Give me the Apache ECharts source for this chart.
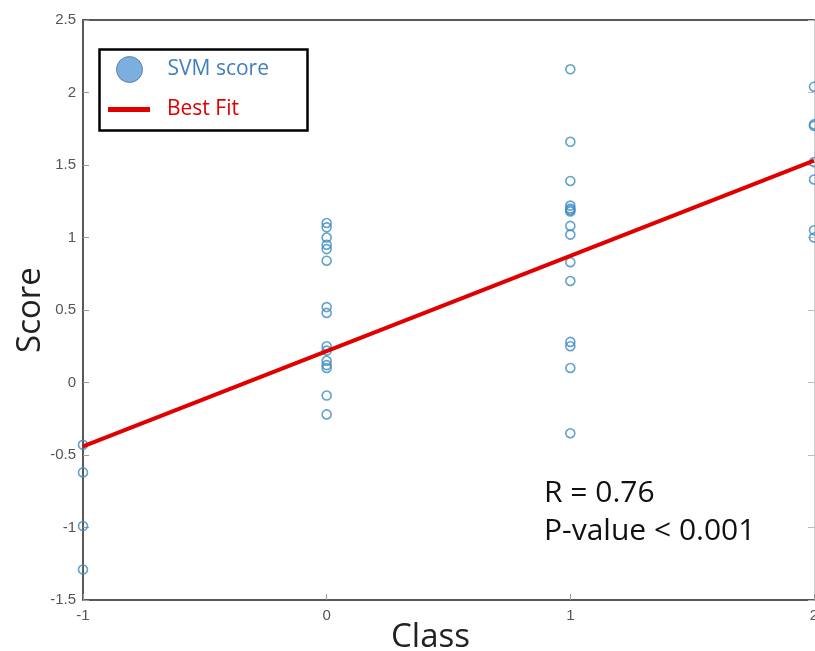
<!DOCTYPE html>
<html>
<head>
<meta charset="utf-8">
<script src="https://cdn.jsdelivr.net/npm/echarts@6/dist/echarts.min.js"></script>
<style>html,body{margin:0;padding:0;background:#fff}#c{width:815px;height:651px}</style>
</head>
<body>
<div id="c"></div>
<script>
var classes = [-1, 0, 1, 2];
var scoresClassM1 = [-0.43, -0.62, -0.99, -1.29];
var scoresClass0 = [1.10, 1.07, 1.0, 0.95, 0.92, 0.84, 0.52, 0.48, 0.25, 0.22, 0.15, 0.12, 0.10, -0.09, -0.22];
var scoresClass1 = [2.16, 1.66, 1.39, 1.22, 1.20, 1.19, 1.18, 1.08, 1.02, 0.83, 0.70, 0.28, 0.25, 0.10, -0.35];
var scoresClass2 = [2.04, 1.78, 1.77, 1.52, 1.40, 1.05, 1.0];
var fitX = [-1, 2];
var fitY = [-0.44, 1.53];
var yTicks = [-1.5, -1, -0.5, 0, 0.5, 1, 1.5, 2, 2.5];
var xTicks = [-1, 0, 1, 2];

var groups = [scoresClassM1, scoresClass0, scoresClass1, scoresClass2];
var scatterData = [];
groups.forEach(function (g, i) { g.forEach(function (v) { scatterData.push([classes[i], v]); }); });
var fitData = fitX.map(function (x, i) { return [x, fitY[i]]; });

var chart = echarts.init(document.getElementById('c'));
var tickLabel = { color: '#555', fontSize: 15, fontFamily: 'Liberation Sans, Arial, sans-serif' };
chart.setOption({
  animation: false,
  grid: { left: 83, right: 1, top: 20, bottom: 51, containLabel: false, outerBoundsMode: 'none' },
  xAxis: [{
    type: 'value', min: xTicks[0], max: xTicks[xTicks.length - 1], interval: 1,
    name: 'Class', nameLocation: 'middle', nameGap: 21, nameMoveOverlap: false,
    nameTextStyle: { fontSize: 33, color: '#222', fontFamily: 'Open Sans, sans-serif', padding: [0, 36, 0, 0] },
    axisLine: { show: true, onZero: false, lineStyle: { color: '#222', width: 1.5 } },
    axisTick: { show: true, inside: true, length: 6, lineStyle: { color: '#999' } },
    axisLabel: Object.assign({ margin: 8 }, tickLabel),
    splitLine: { show: false }
  }, {
    type: 'value', min: xTicks[0], max: xTicks[xTicks.length - 1], interval: 1, position: 'top',
    axisLine: { show: true, onZero: false, lineStyle: { color: '#222', width: 1.5 } },
    axisTick: { show: false }, axisLabel: { show: false }, splitLine: { show: false }
  }],
  yAxis: [{
    type: 'value', min: yTicks[0], max: yTicks[yTicks.length - 1], interval: 0.5,
    name: 'Score', nameLocation: 'middle', nameGap: 36, nameMoveOverlap: false,
    nameTextStyle: { fontSize: 33, color: '#222', fontFamily: 'Open Sans, sans-serif' },
    axisLine: { show: true, onZero: false, lineStyle: { color: '#222', width: 1.5 } },
    axisTick: { show: true, inside: true, length: 6, lineStyle: { color: '#999' } },
    axisLabel: Object.assign({ margin: 7, formatter: function (v) { return String(v); } }, tickLabel),
    splitLine: { show: false }
  }, {
    type: 'value', min: yTicks[0], max: yTicks[yTicks.length - 1], interval: 0.5, position: 'right',
    axisLine: { show: true, onZero: false, lineStyle: { color: '#ccc', width: 1 } },
    axisTick: { show: true, inside: true, length: 6, lineStyle: { color: '#bbb' } },
    axisLabel: { show: false }, splitLine: { show: false }
  }],
  legend: [{
    left: 116, top: 56, orient: 'vertical', padding: 0,
    icon: 'circle', itemWidth: 26, itemHeight: 26, itemGap: 0,
    data: [{ name: 'SVM score', itemStyle: { color: '#5b9bd5', borderColor: '#41719c', borderWidth: 1 },
      textStyle: { color: '#3f7fbf', fontSize: 21, fontFamily: 'Open Sans, sans-serif', padding: [0, 0, 0, 20] } }]
  }, {
    left: 108, top: 99, orient: 'vertical', padding: 0,
    icon: 'rect', itemWidth: 42, itemHeight: 5,
    data: [{ name: 'Best Fit', itemStyle: { color: '#e00000' },
      textStyle: { color: '#e00000', fontSize: 21, fontFamily: 'Open Sans, sans-serif', padding: [0, 0, 0, 12] } }]
  }],
  graphic: [
    { type: 'rect', left: 97, top: 47, shape: { width: 208, height: 81 }, style: { fill: 'none', stroke: '#000', lineWidth: 2.5 }, z: 10 },
    { type: 'text', left: 544, top: 478, style: { text: 'R = 0.76', fontSize: 30, fill: '#111', fontFamily: 'Open Sans, sans-serif' } },
    { type: 'text', left: 544, top: 516, style: { text: 'P-value < 0.001', fontSize: 30, fill: '#111', fontFamily: 'Open Sans, sans-serif' } }
  ],
  series: [{
    name: 'SVM score', type: 'scatter', data: scatterData, symbolSize: 9,
    itemStyle: { color: 'rgba(255,255,255,0)', borderColor: '#3b8bc0', borderWidth: 1.6 }, z: 3
  }, {
    name: 'Best Fit', type: 'line', data: fitData, showSymbol: false,
    lineStyle: { color: '#e00000', width: 4 }, z: 4
  }]
});
</script>
</body>
</html>
